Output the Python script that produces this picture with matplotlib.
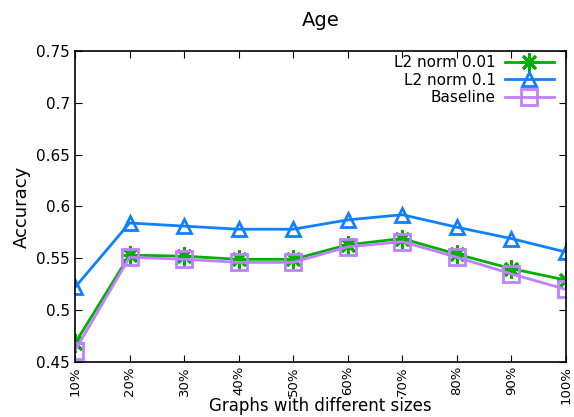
import matplotlib
matplotlib.use("Agg")
import matplotlib.pyplot as plt
import numpy as np

labels = ['10%', '20%', '30%', '40%', '50%', '60%', '70%', '80%', '90%', '100%']
l2_001 = [0.468, 0.553, 0.552, 0.549, 0.549, 0.563, 0.569, 0.554, 0.540, 0.529]
l2_01 = [0.522, 0.584, 0.581, 0.578, 0.578, 0.587, 0.592, 0.580, 0.569, 0.556]
baseline = [0.461, 0.551, 0.549, 0.546, 0.546, 0.561, 0.566, 0.551, 0.535, 0.520]

fig = plt.figure(figsize=(5.74, 4.17), dpi=100)
ax = fig.add_axes([0.1307, 0.132, 0.855, 0.746])

x = np.arange(len(labels))
ax.plot(x, l2_001, color='#00b000', lw=2, marker=(8, 2, 0), ms=13, mew=2,
        label='L2 norm 0.01')
ax.plot(x, l2_01, color='#1080ff', lw=2, marker='^', ms=10, mew=2,
        mfc='none', label='L2 norm 0.1')
ax.plot(x, baseline, color='#c080ff', lw=2, marker='s', ms=11, mew=2,
        mfc='none', label='Baseline')

ax.set_xlim(0, 9)
ax.set_ylim(0.45, 0.75)
ax.set_xticks(x)
ax.set_xticklabels(labels, rotation=90, fontsize=9.5)
ax.set_yticks([0.45, 0.5, 0.55, 0.6, 0.65, 0.7, 0.75])
ax.set_yticklabels(['0.45', '0.5', '0.55', '0.6', '0.65', '0.7', '0.75'], fontsize=11)
ax.tick_params(direction='in', top=True, right=True, length=5)
ax.tick_params(axis='x', pad=3)
for s in ax.spines.values():
    s.set_linewidth(1.2)

ax.set_title('Age', fontsize=14, pad=18)
ax.set_ylabel('Accuracy', fontsize=13)
ax.set_xlabel('Graphs with different sizes', fontsize=12)
ax.xaxis.set_label_coords(0.5, -0.112)

ax.legend(loc='upper right', frameon=False, markerfirst=False, fontsize=11,
          handlelength=3.2, labelspacing=0.15, borderaxespad=0.1,
          handletextpad=0.6, borderpad=0.2,
          bbox_to_anchor=(0.985, 1.0))

fig.savefig('out.png', dpi=100)
